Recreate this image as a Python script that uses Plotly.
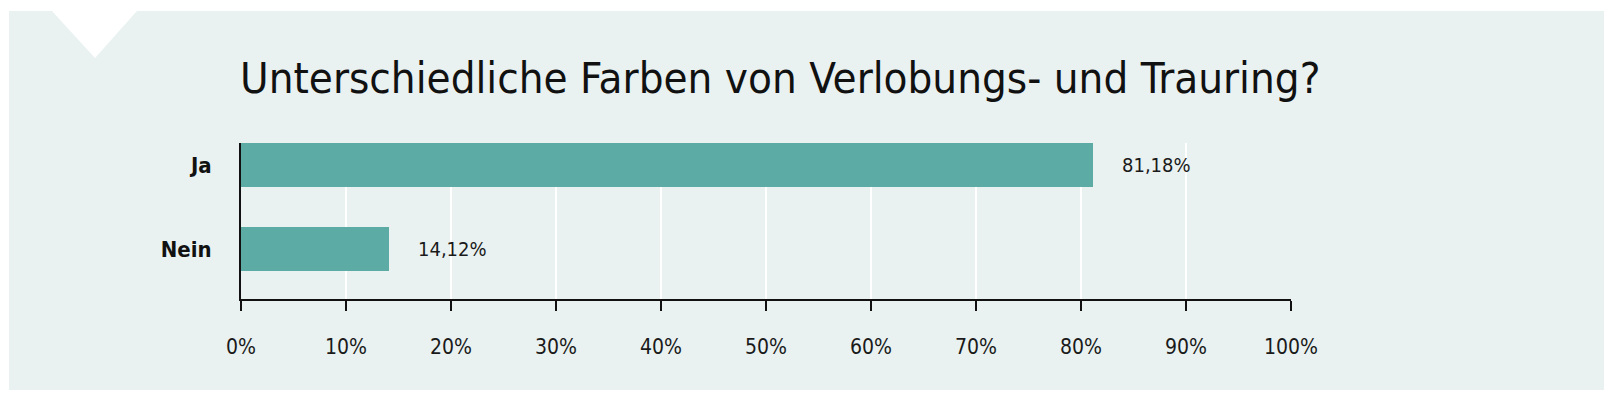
import plotly.graph_objects as go

categories = ["Ja", "Nein"]
values = [81.18, 14.12]
x_ticks = [0, 10, 20, 30, 40, 50, 60, 70, 80, 90, 100]
x_tick_labels = [f"{t}%" for t in x_ticks]
title_text = "Unterschiedliche Farben von Verlobungs- und Trauring?"

W, H = 1618, 404
L, R, T, B = 241, 327, 143, 105
PW, PH = W - L - R, H - T - B

def px(x):
    return (x - L) / PW

def py(y):
    return 1 - (y - T) / PH

FONT = "DejaVu Sans Condensed, Liberation Sans Narrow, Roboto, sans-serif"
BG = "#E9F2F1"
BAR = "#5CACA5"

fig = go.Figure()
fig.add_trace(go.Bar(
    y=categories, x=values, orientation="h",
    marker=dict(color=BAR, line=dict(width=0)),
    width=0.517, hoverinfo="skip",
))

labels = [f"{v:.2f}".replace(".", ",") + "%" for v in values]
for c, v, t in zip(categories, values, labels):
    fig.add_annotation(x=v, y=c, xref="x", yref="y", text=t, showarrow=False,
                       xanchor="left", yanchor="middle", xshift=27,
                       font=dict(family=FONT, size=20, color="#1a1a1a"))

fig.add_annotation(x=px(238), y=py(78), xref="paper", yref="paper", text=title_text,
                   showarrow=False, xanchor="left", yanchor="middle",
                   font=dict(family=FONT, size=43.5, color="#111111"))

# panel with notch
path = (f"M {px(9)},{py(11)} L {px(52)},{py(11)} L {px(95)},{py(58)} L {px(137)},{py(11)} "
        f"L {px(1604)},{py(11)} L {px(1604)},{py(390)} L {px(9)},{py(390)} Z")
fig.add_shape(type="path", path=path, xref="paper", yref="paper",
              fillcolor=BG, line=dict(width=0), layer="below")

fig.update_layout(
    width=W, height=H,
    margin=dict(l=L, r=R, t=T, b=B, pad=0),
    paper_bgcolor="white", plot_bgcolor="rgba(0,0,0,0)",
    showlegend=False, bargap=0,
    xaxis=dict(range=[0, 100], tickvals=x_ticks, ticktext=x_tick_labels,
               showgrid=True, gridcolor="white", gridwidth=2,
               showline=True, linecolor="#111111", linewidth=2,
               ticks="outside", ticklen=10, tickwidth=2, tickcolor="#111111",
               ticklabelstandoff=18, zeroline=False, fixedrange=True,
               tickfont=dict(family=FONT, size=21, color="#1a1a1a")),
    yaxis=dict(type="category", categoryorder="array", categoryarray=categories,
               range=[1.595, -0.262], showgrid=False, zeroline=False,
               showline=True, linecolor="#111111", linewidth=2,
               ticks="", ticklabelstandoff=23, fixedrange=True,
               tickfont=dict(family=FONT, size=22, color="#111111", weight="bold")),
)

fig.write_html("out.html")
